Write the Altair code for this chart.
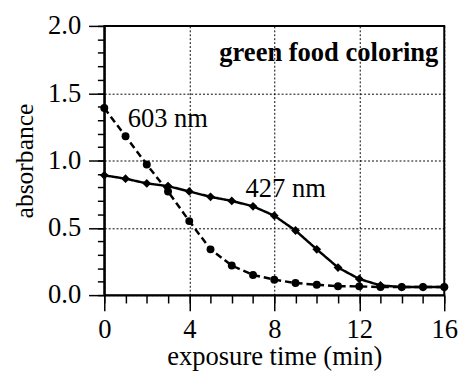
import altair as alt
import pandas as pd

time_min = [0, 1, 2, 3, 4, 5, 6, 7, 8, 9, 10, 11, 12, 13, 14, 15, 16]
abs_603 = [1.39, 1.18, 0.97, 0.77, 0.55, 0.34, 0.22, 0.15, 0.115, 0.09, 0.077, 0.066, 0.065, 0.06, 0.06, 0.06, 0.06]
abs_427 = [0.89, 0.865, 0.83, 0.81, 0.77, 0.73, 0.70, 0.66, 0.59, 0.48, 0.34, 0.205, 0.12, 0.072, 0.06, 0.06, 0.06]
series_names = ["603 nm", "427 nm"]

x_major = [0, 4, 8, 12, 16]
x_minor = list(range(0, 17))
y_major = [0.0, 0.5, 1.0, 1.5, 2.0]
y_minor = [round(i / 10, 1) for i in range(0, 21)]

label_text = ["603 nm", "427 nm"]
label_x = [1.1, 6.65]
label_y = [1.25, 0.73]
title_text = "green food coloring"

rows = []
for t, a, b in zip(time_min, abs_603, abs_427):
    rows.append({"t": t, "absorbance": a, "series": series_names[0]})
    rows.append({"t": t, "absorbance": b, "series": series_names[1]})
df = pd.DataFrame(rows)
labels_df = pd.DataFrame({"x": label_x, "y": label_y, "text": label_text})
title_df = pd.DataFrame({"x": [15.72], "y": [1.74], "text": [title_text]})

FONT = "Liberation Serif"
FS = 27

xscale = alt.Scale(domain=[0, 16], nice=False, zero=False)
yscale = alt.Scale(domain=[0, 2], nice=False)

x_major_axis = alt.Axis(values=x_major, format="d", tickSize=16, tickWidth=1.5,
                        tickColor="black", domainColor="black", domainWidth=2,
                        labelFont=FONT, labelFontSize=FS, labelColor="black",
                        labelPadding=6, title="exposure time (min)", titleFont=FONT,
                        titleFontSize=FS, titleFontWeight="normal", titleColor="black",
                        titlePadding=2, grid=True, gridDash=[2, 2], gridColor="black",
                        gridWidth=1, gridOpacity=1, orient="bottom", labelFlush=False)
y_major_axis = alt.Axis(values=y_major, format=".1f", tickSize=16, tickWidth=1.5,
                        tickColor="black", domainColor="black", domainWidth=2,
                        labelFont=FONT, labelFontSize=FS, labelColor="black",
                        labelPadding=8, title="absorbance", titleFont=FONT,
                        titleFontSize=26, titleFontWeight="normal", titleColor="black",
                        titlePadding=10, grid=True, gridDash=[2, 2], gridColor="black",
                        gridWidth=1, gridOpacity=1, orient="left", labelFlush=False)
x_minor_axis = alt.Axis(values=x_minor, tickSize=8, tickWidth=1.5, tickColor="black",
                        labels=False, domain=False, grid=False, title=None, orient="bottom")
y_minor_axis = alt.Axis(values=y_minor, tickSize=7, tickWidth=1.5, tickColor="black",
                        labels=False, domain=False, grid=False, title=None, orient="left")

base = alt.Chart(df)

minor = base.mark_point(opacity=0).encode(
    x=alt.X("t:Q", scale=xscale, axis=x_minor_axis),
    y=alt.Y("absorbance:Q", scale=yscale, axis=y_minor_axis),
)

lines = base.mark_line(color="black", strokeWidth=2.5).encode(
    x=alt.X("t:Q", scale=xscale, axis=x_major_axis),
    y=alt.Y("absorbance:Q", scale=yscale, axis=y_major_axis),
    strokeDash=alt.StrokeDash("series:N", scale=alt.Scale(domain=series_names, range=[[7, 4], [1, 0]]), legend=None),
)

points = base.mark_point(filled=True, color="black", opacity=1).encode(
    x=alt.X("t:Q", scale=xscale, axis=None),
    y=alt.Y("absorbance:Q", scale=yscale, axis=None),
    shape=alt.Shape("series:N", scale=alt.Scale(domain=series_names, range=["circle", "diamond"]), legend=None),
    size=alt.Size("series:N", scale=alt.Scale(domain=series_names, range=[65, 80]), legend=None),
)

labels = alt.Chart(labels_df).mark_text(font=FONT, fontSize=FS, align="left", baseline="alphabetic", color="black").encode(
    x=alt.X("x:Q", scale=xscale, axis=None),
    y=alt.Y("y:Q", scale=yscale, axis=None),
    text="text:N",
)

title = alt.Chart(title_df).mark_text(font=FONT, fontSize=FS, fontWeight="bold", align="right", baseline="alphabetic", color="black").encode(
    x=alt.X("x:Q", scale=xscale, axis=None),
    y=alt.Y("y:Q", scale=yscale, axis=None),
    text="text:N",
)

chart = alt.layer(minor, lines, points, labels, title).resolve_axis(
    x="independent", y="independent"
).properties(
    width=346, height=274,
    autosize=alt.AutoSizeParams(type="none"),
    padding={"left": 98, "top": 15, "right": 14, "bottom": 74},
    background="white",
).configure_view(stroke="black", strokeWidth=2)

chart.save("out.html", embed_options={"renderer": "svg", "actions": False})
